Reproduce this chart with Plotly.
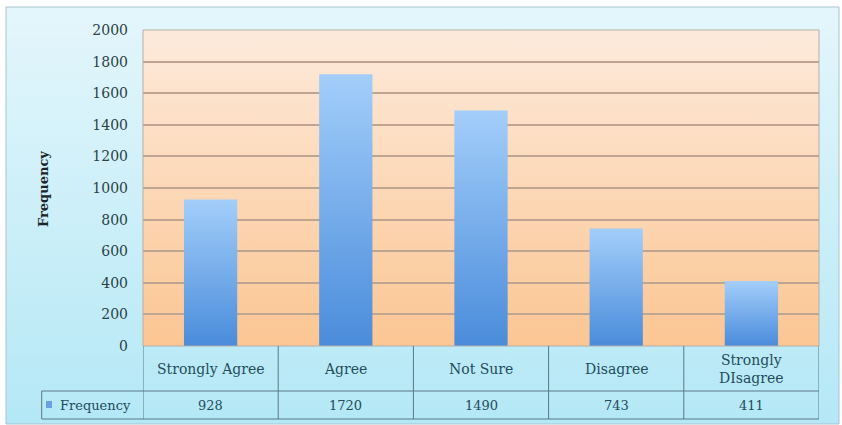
import base64
import plotly.graph_objects as go

# Survey responses and their counts
categories = ["Strongly Agree", "Agree", "Not Sure", "Disagree", "Strongly<br>DIsagree"]
frequency = [928, 1720, 1490, 743, 411]
series_name = "Frequency"
y_ticks = [0, 200, 400, 600, 800, 1000, 1200, 1400, 1600, 1800, 2000]

# Canvas geometry (pixels)
W, H = 842, 425
L, R, T, B = 143, 23, 30, 79
PW, PH = W - L - R, H - T - B

FONT = "DejaVu Serif"
TEXT_COLOR = "#234d5b"
TABLE_LINE = "#5a7885"


def px(x):
    """Pixel column -> paper x."""
    return (x - L) / PW


def py(y):
    """Pixel row -> paper y."""
    return (H - B - y) / PH


def gradient_uri(top, bottom):
    svg = (
        "<svg xmlns='http://www.w3.org/2000/svg' width='10' height='100' "
        "viewBox='0 0 10 100' preserveAspectRatio='none'>"
        "<defs><linearGradient id='g' x1='0' y1='0' x2='0' y2='1'>"
        f"<stop offset='0' stop-color='{top}'/>"
        f"<stop offset='1' stop-color='{bottom}'/>"
        "</linearGradient></defs>"
        "<rect width='10' height='100' fill='url(#g)'/></svg>"
    )
    return "data:image/svg+xml;base64," + base64.b64encode(svg.encode()).decode()


fig = go.Figure()

# Columns with a vertical blue gradient, one trace per column
half = 0.197
for i, v in enumerate(frequency):
    fig.add_trace(go.Scatter(
        x=[i - half, i - half, i + half, i + half, i - half],
        y=[0, v, v, 0, 0],
        fill="toself",
        mode="none",
        fillgradient=dict(type="vertical",
                          colorscale=[[0, "#4a8cdb"], [1, "#a3cefa"]]),
        name=series_name,
        hoverinfo="text",
        text=f"{categories[i].replace('<br>', ' ')}: {v}",
        showlegend=False,
    ))

shapes = []
annotations = []

# Plot-area border
shapes.append(dict(type="rect", xref="paper", yref="paper", x0=0, x1=1, y0=0, y1=1,
                   line=dict(color="#b5aea8", width=1), layer="above"))

# Data table below the axis
n = len(categories)
row_mid, row_bot, left_edge = py(391), py(419), px(41.7)
for k in range(n + 1):
    shapes.append(dict(type="line", xref="x", yref="paper", x0=k - 0.5, x1=k - 0.5,
                       y0=0, y1=row_bot, line=dict(color=TABLE_LINE, width=1)))
for yy in (row_mid, row_bot):
    shapes.append(dict(type="line", xref="paper", yref="paper", x0=left_edge, x1=1,
                       y0=yy, y1=yy, line=dict(color=TABLE_LINE, width=1)))
shapes.append(dict(type="line", xref="paper", yref="paper", x0=left_edge, x1=left_edge,
                   y0=row_mid, y1=row_bot, line=dict(color=TABLE_LINE, width=1)))

# Legend key inside the table
shapes.append(dict(type="rect", xref="paper", yref="paper", x0=px(46), x1=px(52),
                   y0=py(408), y1=py(401), fillcolor="#6a9fe0", line=dict(width=0)))
annotations.append(dict(text=series_name, xref="paper", yref="paper", x=px(58), y=py(405),
                        xanchor="left", yanchor="middle", showarrow=False,
                        font=dict(family=FONT, size=13, color=TEXT_COLOR)))

for i, (c, v) in enumerate(zip(categories, frequency)):
    annotations.append(dict(text=c, xref="x", yref="paper", x=i, y=py(369),
                            xanchor="center", yanchor="middle", showarrow=False,
                            font=dict(family=FONT, size=14, color=TEXT_COLOR)))
    annotations.append(dict(text=str(v), xref="x", yref="paper", x=i, y=py(405),
                            xanchor="center", yanchor="middle", showarrow=False,
                            font=dict(family=FONT, size=13, color=TEXT_COLOR)))

# Axis title
annotations.append(dict(text="<b>Frequency</b>", xref="paper", yref="paper",
                        x=px(43), y=py(189), textangle=-90, showarrow=False,
                        xanchor="center", yanchor="middle",
                        font=dict(family=FONT, size=13, color="#1a262b")))

# Frame border
shapes.append(dict(type="rect", xref="paper", yref="paper", x0=px(6), x1=px(839),
                   y0=py(424), y1=py(7), line=dict(color="#a9c3cc", width=1), layer="below"))

images = [
    dict(source=gradient_uri("#e4f6fb", "#b4e8f6"), xref="paper", yref="paper",
         x=px(6), y=py(7), sizex=px(839) - px(6), sizey=py(7) - py(424),
         xanchor="left", yanchor="top", sizing="stretch", layer="below"),
    dict(source=gradient_uri("#fdeadb", "#fbc693"), xref="paper", yref="paper",
         x=0, y=1, sizex=1, sizey=1, xanchor="left", yanchor="top",
         sizing="stretch", layer="below"),
]

fig.update_layout(
    width=W, height=H,
    margin=dict(l=L, r=R, t=T, b=B, pad=0),
    paper_bgcolor="white",
    plot_bgcolor="rgba(0,0,0,0)",
    showlegend=False,
    shapes=shapes,
    annotations=annotations,
    images=images,
    xaxis=dict(range=[-0.5, n - 0.5], showticklabels=False, showgrid=False,
               zeroline=False, fixedrange=True),
    yaxis=dict(range=[0, 2000], tickvals=y_ticks, ticktext=[str(t) for t in y_ticks],
               showgrid=True, gridcolor="#bea592", gridwidth=2, zeroline=False,
               ticks="", ticklabelstandoff=14,
               tickfont=dict(family=FONT, size=14, color="#2c3f47"), fixedrange=True),
)

fig.write_html("out.html")
